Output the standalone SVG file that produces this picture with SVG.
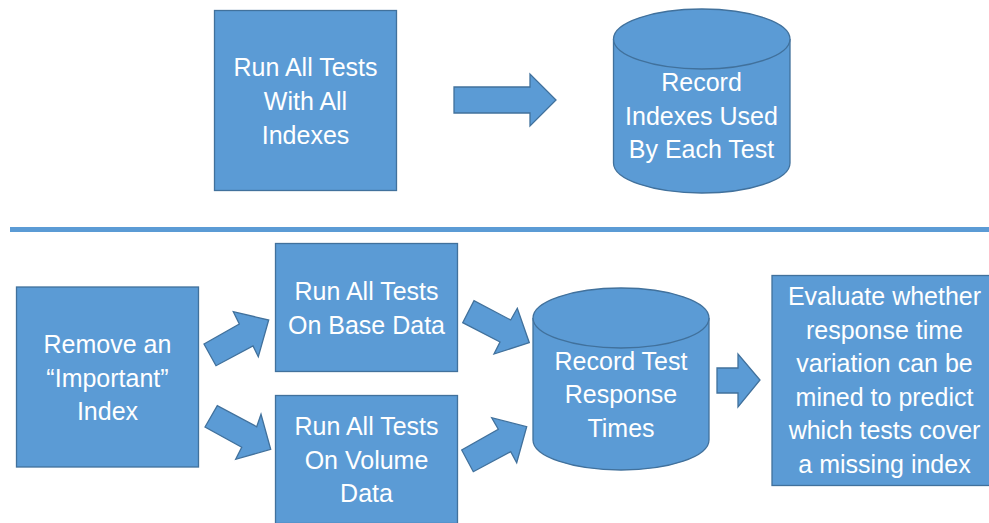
<svg xmlns="http://www.w3.org/2000/svg" width="989" height="523" viewBox="0 0 989 523">
<style>
.s{fill:#5B9BD5;stroke:#41719C;stroke-width:1.3}
.t{fill:#FFFFFF;font-family:"Liberation Sans",Arial,sans-serif;font-size:25px;text-anchor:middle}
</style>
<rect width="989" height="523" fill="#FFFFFF"/>
<line x1="10" y1="229.5" x2="989" y2="229.5" stroke="#5B9BD5" stroke-width="5"/>
<g id="connectors">
<polygon class="s" points="454,87 530,87 530,74 556,100 530,126 530,113 454,113"/>
<polygon class="s" points="204,344 239.3,324 233.3,311.7 268.7,320 258.3,356.7 253,346 216,365.7"/>
<polygon class="s" points="205,427 217.3,405.7 256.7,426.7 261,414.3 270.7,449.3 235.7,459.3 241.7,447.3"/>
<polygon class="s" points="462.7,322.7 474,300.7 510.7,320 517.3,308.3 529.3,342.7 494,354 500,342"/>
<polygon class="s" points="461.7,450 473.3,471.7 510.7,451.7 516.7,462.7 526.7,426.7 491.7,417.7 498.3,429.3"/>
<polygon class="s" points="717,368 738,368 738,354 760,380 738,407 738,393 717,393"/>
</g>
<g id="run-all-indexes">
<rect class="s" x="214.5" y="10.5" width="182" height="180"/>
<text class="t" x="305.5" y="76">Run All Tests</text>
<text class="t" x="305.5" y="110">With All</text>
<text class="t" x="305.5" y="143.5">Indexes</text>
</g>
<g id="record-indexes">
<path class="s" d="M613.5,39 A88.25,30 0 0 1 790,39 V163 A88.25,30 0 0 1 613.5,163 Z"/>
<path class="s" fill="none" d="M613.5,39 A88.25,30 0 0 0 790,39"/>
<text class="t" x="701.5" y="91">Record</text>
<text class="t" x="701.5" y="124.5">Indexes Used</text>
<text class="t" x="701.5" y="158">By Each Test</text>
</g>
<g id="remove-index">
<rect class="s" x="16.5" y="287" width="182" height="180"/>
<text class="t" x="107.5" y="353">Remove an</text>
<text class="t" x="107.5" y="386.5">“Important”</text>
<text class="t" x="107.5" y="420">Index</text>
</g>
<g id="run-base">
<rect class="s" x="275.5" y="243.5" width="182" height="128"/>
<text class="t" x="366.5" y="300">Run All Tests</text>
<text class="t" x="366.5" y="333.5">On Base Data</text>
</g>
<g id="run-volume">
<rect class="s" x="275.5" y="395.5" width="182" height="128"/>
<text class="t" x="366.5" y="435">Run All Tests</text>
<text class="t" x="366.5" y="468.5">On Volume</text>
<text class="t" x="366.5" y="502">Data</text>
</g>
<g id="record-times">
<path class="s" d="M533,318 A88,30 0 0 1 709,318 V440 A88,30 0 0 1 533,440 Z"/>
<path class="s" fill="none" d="M533,318 A88,30 0 0 0 709,318"/>
<text class="t" x="621" y="369.5">Record Test</text>
<text class="t" x="621" y="403">Response</text>
<text class="t" x="621" y="436.5">Times</text>
</g>
<g id="evaluate">
<rect class="s" x="772" y="275.5" width="226" height="210"/>
<text class="t" x="884.5" y="305">Evaluate whether</text>
<text class="t" x="884.5" y="338.5">response time</text>
<text class="t" x="884.5" y="372">variation can be</text>
<text class="t" x="884.5" y="405.5">mined to predict</text>
<text class="t" x="884.5" y="439">which tests cover</text>
<text class="t" x="884.5" y="472.5">a missing index</text>
</g>
</svg>
